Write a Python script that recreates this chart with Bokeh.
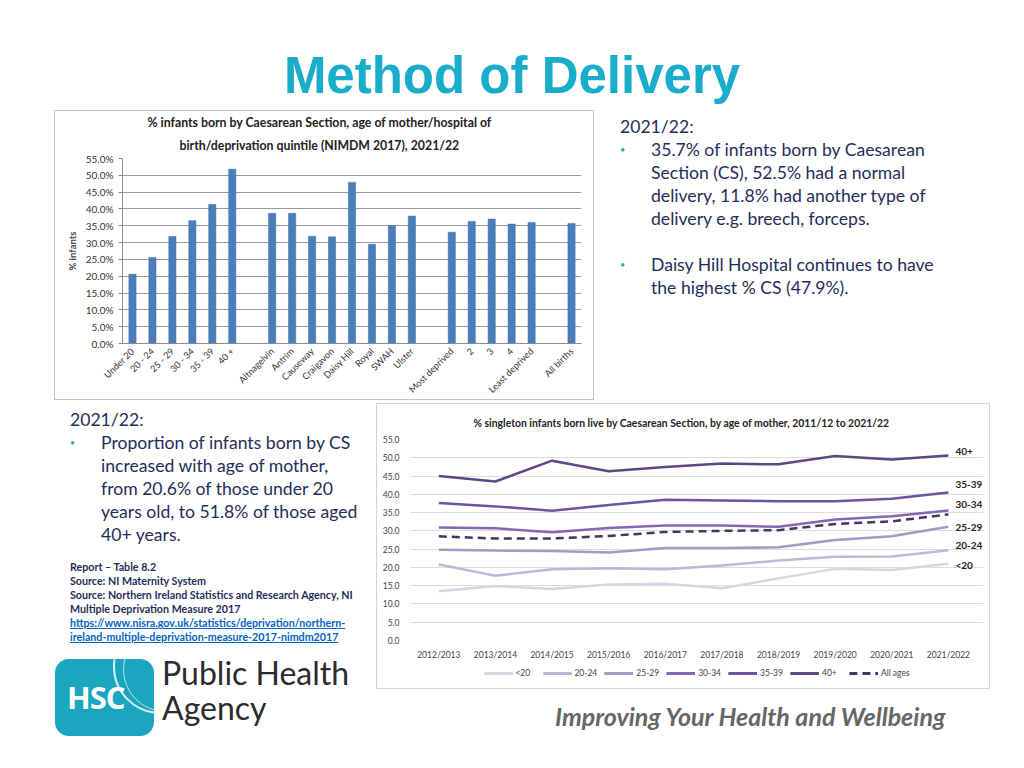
import math
from bokeh.plotting import figure
from bokeh.models import (Div, Spacer, FactorRange, Title, PrintfTickFormatter, FixedTicker,
                          NumeralTickFormatter, Legend, LegendItem, Range1d, SingleIntervalTicker)
from bokeh.layouts import column, row
from bokeh.embed import file_html
from bokeh.resources import INLINE
from bokeh.core.properties import value

# ---------------- data: bar chart (2021/22) ----------------
age_groups = ["Under 20", "20 - 24", "25 - 29", "30 - 34", "35 - 39", "40 +"]
age_cs = [20.6, 25.6, 31.8, 36.5, 41.3, 51.8]
hospitals = ["Altnagelvin", "Antrim", "Causeway", "Craigavon", "Daisy Hill", "Royal", "SWAH", "Ulster"]
hospital_cs = [38.7, 38.7, 31.9, 31.7, 47.9, 29.5, 35.0, 37.9]
quintiles = ["Most deprived", "2", "3", "4", "Least deprived"]
quintile_cs = [33.1, 36.3, 37.0, 35.5, 36.0]
all_label = ["All births"]
all_cs = [35.7]

# ---------------- data: line chart ----------------
years = ["2012/2013", "2013/2014", "2014/2015", "2015/2016", "2016/2017",
         "2017/2018", "2018/2019", "2019/2020", "2020/2021", "2021/2022"]
under20 = [13.5, 14.9, 14.1, 15.3, 15.5, 14.3, 17.0, 19.6, 19.3, 21.0]
age20_24 = [20.8, 17.7, 19.5, 19.8, 19.5, 20.5, 21.9, 22.9, 23.0, 24.7]
age25_29 = [24.8, 24.6, 24.5, 24.1, 25.3, 25.3, 25.5, 27.5, 28.5, 31.1]
age30_34 = [30.9, 30.7, 29.6, 30.8, 31.5, 31.5, 31.1, 33.1, 34.0, 35.6]
age35_39 = [37.6, 36.7, 35.5, 37.1, 38.5, 38.3, 38.1, 38.1, 38.8, 40.5]
age40plus = [45.0, 43.5, 49.2, 46.3, 47.5, 48.4, 48.2, 50.5, 49.5, 50.6]
all_ages = [28.5, 27.9, 27.9, 28.6, 29.7, 30.0, 30.2, 31.9, 32.6, 34.5]
series_names = ["<20", "20-24", "25-29", "30-34", "35-39", "40+", "All ages"]

# ---------------- styles ----------------
FONT = "Lato"
NAVY = "#1F2D5A"
TEAL = "#1AADCB"
BAR_COLOR = "#4A7EBB"
line_colors = ["#D8D4E3", "#BFB8D5", "#A399C5", "#8466B3", "#6C559D", "#5D4785", "#3D3A5E"]
label_dy = [-0.3, 1.2, -0.3, 1.5, 2.3, 1.2]  # data-unit nudges for end labels

# ---------------- title ----------------
title_div = Div(width=1024, height=110, margin=0, text=(
    f'<div style="width:1024px;text-align:center;font-family:\'Liberation Sans\';font-weight:bold;'
    f'font-size:51px;line-height:50px;color:{TEAL};padding-top:51px;">Method of Delivery</div>'))

# ---------------- bar chart ----------------
factors, bx, by = [], [], []
groups = [(age_groups, age_cs), (hospitals, hospital_cs), (quintiles, quintile_cs), (all_label, all_cs)]
for gi, (cats, vals) in enumerate(groups):
    factors += cats
    bx += cats
    by += vals
    if gi < len(groups) - 1:
        factors.append(" " * (gi + 1))

bp = figure(x_range=FactorRange(factors=factors, range_padding=0), y_range=Range1d(0, 55),
            width=540, height=290, output_backend="svg", toolbar_location=None,
            min_border_left=67, min_border_right=14, min_border_top=47, min_border_bottom=56,
            background_fill_color="white", border_fill_color="white", margin=0)
bp.vbar(x=bx, top=by, width=0.36, fill_color=BAR_COLOR, line_color="#3D6CA5", line_width=0.5)
bp.title.visible = False
t2 = Title(text="birth/deprivation quintile (NIMDM 2017), 2021/22", align="left", offset=57,
           text_font=FONT, text_font_size="12.3px", text_font_style="bold", text_color="#222222",
           standoff=12)
t1 = Title(text="% infants born by Caesarean Section, age of mother/hospital of", align="left",
           offset=25, text_font=FONT, text_font_size="12.3px", text_font_style="bold",
           text_color="#222222", standoff=0)
bp.add_layout(t2, "above")
bp.add_layout(t1, "above")
bp.outline_line_color = None
bp.xgrid.visible = False
bp.ygrid.grid_line_color = "#9a9a9a"
bp.yaxis.ticker = SingleIntervalTicker(interval=5)
bp.yaxis.formatter = PrintfTickFormatter(format="%.1f%%")
bp.yaxis.axis_label = "% infants"
bp.yaxis.axis_label_text_font = FONT
bp.yaxis.axis_label_text_font_style = "bold"
bp.yaxis.axis_label_text_font_size = "9.5px"
bp.yaxis.axis_label_standoff = 5
for ax in (bp.xaxis[0], bp.yaxis[0]):
    ax.axis_line_color = "#8c8c8c"
    ax.major_label_text_font = FONT
    ax.major_label_text_color = "#333333"
    ax.minor_tick_line_color = None
bp.yaxis.major_label_text_font_size = "10px"
bp.xaxis.major_label_text_font_size = "9.2px"
bp.yaxis.major_tick_line_color = "#8c8c8c"
bp.yaxis.major_tick_out = 4
bp.yaxis.major_tick_in = 0
bp.xaxis.major_tick_line_color = None
bp.xaxis.major_label_orientation = math.pi / 4
bp.xaxis.major_label_standoff = 0
bp.styles = {"border": "1px solid #c4c4c4", "box-sizing": "border-box"}

# ---------------- right text ----------------
def bullet(html, top=0):
    return (f'<div style="display:flex;margin-top:{top}px;">'
            f'<div style="width:31px;flex:none;color:#2AA8B8;font-size:9px;">&#8226;</div>'
            f'<div style="white-space:nowrap;">{html}</div></div>')

right_div = Div(width=410, height=290, margin=0, text=(
    f'<div style="font-family:{FONT};font-size:17.6px;line-height:23px;color:{NAVY};'
    f'padding-top:5px;padding-left:6px;">'
    f'<div>2021/22:</div>'
    + bullet("35.7% of infants born by Caesarean<br>Section (CS), 52.5% had a normal<br>"
             "delivery, 11.8% had another type of<br>delivery e.g. breech, forceps.")
    + bullet("Daisy Hill Hospital continues to have<br>the highest % CS (47.9%).", top=23)
    + '</div>'))

# ---------------- left texts ----------------
left_div = Div(width=322, height=156, margin=0, text=(
    f'<div style="font-family:{FONT};font-size:17.6px;line-height:23px;color:{NAVY};'
    f'padding-top:5px;padding-left:16px;">'
    f'<div>2021/22:</div>'
    + bullet("Proportion of infants born by CS<br>increased with age of mother,<br>"
             "from 20.6% of those under 20<br>years old, to 51.8% of those aged<br>40+ years.")
    + '</div>'))

source_div = Div(width=322, height=90, margin=0, text=(
    f'<div style="font-family:{FONT};font-size:10.7px;font-weight:bold;line-height:14px;color:{NAVY};'
    f'padding-top:1px;padding-left:16px;white-space:nowrap;">'
    'Report &ndash; Table 8.2<br>Source: NI Maternity System<br>'
    'Source: Northern Ireland Statistics and Research Agency, NI<br>Multiple Deprivation Measure 2017<br>'
    '<span style="color:#0563C1;text-decoration:underline;">'
    'https://www.nisra.gov.uk/statistics/deprivation/northern-<br>'
    'ireland-multiple-deprivation-measure-2017-nimdm2017</span></div>'))

logo_div = Div(width=322, height=95, margin=0, text=(
    '<div style="position:relative;width:322px;height:95px;">'
    '<div style="position:absolute;left:1px;top:10px;width:99px;height:77px;background:#1AA6BF;'
    'border-radius:14px;overflow:hidden;">'
    '<div style="position:absolute;left:58px;top:-40px;width:95px;height:95px;'
    'border:2px solid rgba(255,255,255,0.85);border-radius:50%;"></div>'
    '<div style="position:absolute;left:68px;top:-32px;width:85px;height:85px;'
    'border:1.5px solid rgba(255,255,255,0.7);border-radius:50%;"></div>'
    '<div style="position:absolute;left:12px;top:18px;font-family:\'Open Sans\';font-weight:bold;'
    'font-size:31px;letter-spacing:-1px;color:white;line-height:40px;">HSC</div></div>'
    f'<div style="position:absolute;left:108px;top:9px;font-family:{FONT};font-size:32px;'
    'line-height:30px;color:#2b2b2b;white-space:nowrap;">Public Health</div>'
    f'<div style="position:absolute;left:108px;top:44px;font-family:{FONT};font-size:32px;'
    'line-height:30px;color:#2b2b2b;white-space:nowrap;">Agency</div></div>'))

# ---------------- line chart ----------------
xs = list(range(len(years)))
lp = figure(x_range=Range1d(-0.5, len(years) - 0.38), y_range=Range1d(0, 55),
            width=612, height=258, output_backend="svg", toolbar_location=None,
            min_border_left=33, min_border_right=6, min_border_top=34, min_border_bottom=22,
            background_fill_color="white", border_fill_color="white", margin=0)
lp.title.visible = False
lp.add_layout(Title(text="% singleton infants born live by Caesarean Section, by age of mother, 2011/12 to 2021/22",
                    align="left", offset=63, text_font=FONT, text_font_size="10.4px",
                    text_font_style="bold", text_color="#222222", standoff=21), "above")
all_series = [under20, age20_24, age25_29, age30_34, age35_39, age40plus, all_ages]
dashes = ["solid"] * 6 + ["8 5"]
for name, vals, col, dash in zip(series_names, all_series, line_colors, dashes):
    lp.line(xs, vals, line_color=col, line_width=2.5, line_dash=dash)

end_vals = [s[-1] for s in all_series[:6]]
end_y = [v + d for v, d in zip(end_vals, label_dy)]
lp.text(x=[xs[-1]] * 6, y=end_y, text=series_names[:6], x_offset=7,
        text_baseline="middle", text_align="left", text_font=value(FONT),
        text_font_size="10px", text_font_style="bold", text_color="#222222")

lp.outline_line_color = None
lp.xgrid.visible = False
lp.ygrid.grid_line_color = "#dcdcdc"
lp.yaxis.ticker = SingleIntervalTicker(interval=5)
lp.yaxis.formatter = NumeralTickFormatter(format="0.0")
lp.xaxis.ticker = FixedTicker(ticks=xs)
lp.xaxis.major_label_overrides = {i: y for i, y in zip(xs, years)}
for ax in (lp.xaxis[0], lp.yaxis[0]):
    ax.axis_line_color = None
    ax.major_tick_line_color = None
    ax.minor_tick_line_color = None
    ax.major_label_text_font = FONT
    ax.major_label_text_font_size = "8.5px"
    ax.major_label_text_color = "#444444"
lp.xaxis.major_label_standoff = 3

# legend strip under the line chart: off-range copies of each series carry the legend glyphs
lg = figure(width=612, height=22, x_range=Range1d(0, 1), y_range=Range1d(0, 1),
            output_backend="svg", toolbar_location=None, x_axis_type=None, y_axis_type=None,
            min_border=0, outline_line_color=None, margin=0,
            background_fill_color="white", border_fill_color="white")
lg.title.visible = False
items = []
for name, vals, col, dash in zip(series_names, all_series, line_colors, dashes):
    r = lg.line(x=xs, y=vals, line_color=col, line_width=3, line_dash=dash)
    items.append(LegendItem(label=name, renderers=[r]))
legend = Legend(items=items, orientation="horizontal", location="center",
                label_text_font=FONT, label_text_font_size="8.5px", label_text_color="#444444",
                glyph_width=29, glyph_height=8, spacing=7, padding=0, margin=0,
                label_standoff=3, border_line_color=None, background_fill_alpha=0)
lg.add_layout(legend)

line_block = column(lp, lg, Spacer(width=612, height=4), styles={"border": "1px solid #d4d4d4"})

tag_div = Div(width=612, height=53, margin=0, text=(
    f'<div style="font-family:{FONT};font-size:25px;font-weight:bold;font-style:italic;'
    'line-height:26px;color:#666666;padding-top:14px;padding-left:179px;white-space:nowrap;">'
    'Improving Your Health and Wellbeing</div>'))

layout = column(
    title_div,
    row(Spacer(width=54, height=290), bp, Spacer(width=20, height=290), right_div),
    Spacer(width=10, height=3),
    row(Spacer(width=54, height=341), column(left_div, source_div, logo_div), column(line_block, tag_div)),
)

open("out.html", "w").write(file_html(layout, INLINE, title="Method of Delivery"))
